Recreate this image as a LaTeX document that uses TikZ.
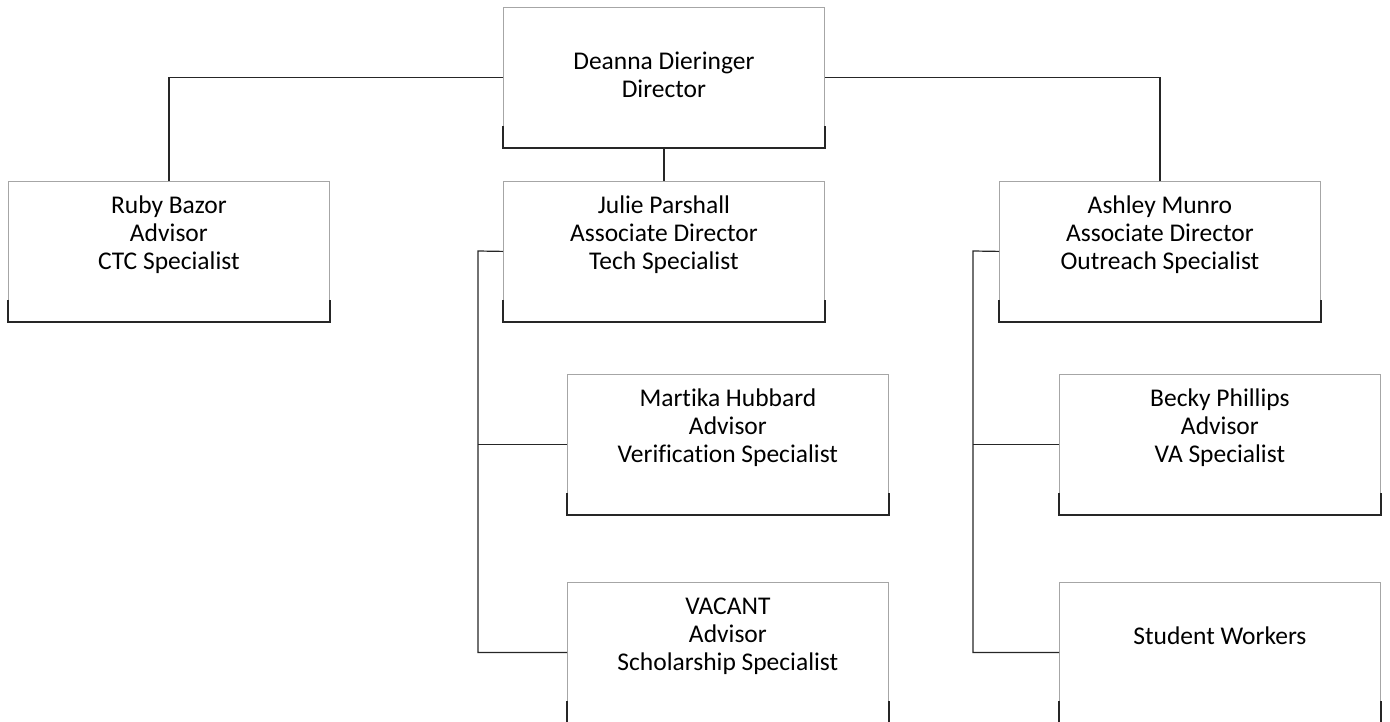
\documentclass[tikz,border=0pt]{standalone}
\usepackage{fontspec}
\setmainfont[RawFeature=-liga]{Carlito}
\usetikzlibrary{calc}
\tikzset{
 orgbox/.style={draw=gray!70, line width=0.8pt, rectangle, minimum width=321pt, minimum height=140pt, inner sep=0pt, anchor=north west},
 lbl/.style={font=\fontsize{25.5}{28}\selectfont, align=center, anchor=center, inner sep=0pt},
 link/.style={line width=1.2pt, black!85},
 boxbase/.style={line width=1.4pt, black!85},
}
\newcommand{\basebox}[1]{\draw[boxbase] ([yshift=22pt]#1.south west) -- (#1.south west) -- (#1.south east) -- ([yshift=22pt]#1.south east);}
\begin{document}
\begin{tikzpicture}[x=1pt,y=-1pt]
\useasboundingbox (0,0) rectangle (1390,721);
\node[orgbox] (dir) at (503,7) {};
\node[orgbox] (ruby) at (8,181) {};
\node[orgbox] (julie) at (503,181) {};
\node[orgbox] (ashley) at (999,181) {};
\node[orgbox] (martika) at (567,374) {};
\node[orgbox] (becky) at (1059,374) {};
\node[orgbox] (vacant) at (567,582) {};
\node[orgbox] (students) at (1059,582) {};
\foreach \b in {dir,ruby,julie,ashley,martika,becky,vacant,students} {\basebox{\b}}
\node[lbl] (tdir) at ($(dir.north)+(0,68)$) {Deanna Dieringer\\Director};
\node[lbl] (truby) at ($(ruby.north)+(0,54)$) {Ruby Bazor\\Advisor\\CTC Specialist};
\node[lbl] (tjulie) at ($(julie.north)+(0,54)$) {Julie Parshall\\Associate Director\\Tech Specialist};
\node[lbl] (tashley) at ($(ashley.north)+(0,54)$) {Ashley Munro\\Associate Director\\Outreach Specialist};
\node[lbl] (tmartika) at ($(martika.north)+(0,54)$) {Martika Hubbard\\Advisor\\Verification Specialist};
\node[lbl] (tbecky) at ($(becky.north)+(0,54)$) {Becky Phillips\\Advisor\\VA Specialist};
\node[lbl] (tvacant) at ($(vacant.north)+(0,54)$) {VACANT\\Advisor\\Scholarship Specialist};
\node[lbl] (tstudents) at ($(students.north)+(0,54)$) {Student Workers};
\coordinate (jl) at (478,251);
\coordinate (al) at (973,251);
\draw[link] (dir.west) -| (ruby.north);
\draw[link] (dir.east) -| (ashley.north);
\draw[link] (dir.south) -- (julie.north);
\draw[link] (julie.west) -- (jl) |- (vacant.west);
\draw[link] (martika.west) -- (martika.west -| jl);
\draw[link] (ashley.west) -- (al) |- (students.west);
\draw[link] (becky.west) -- (becky.west -| al);
\end{tikzpicture}
\end{document}
